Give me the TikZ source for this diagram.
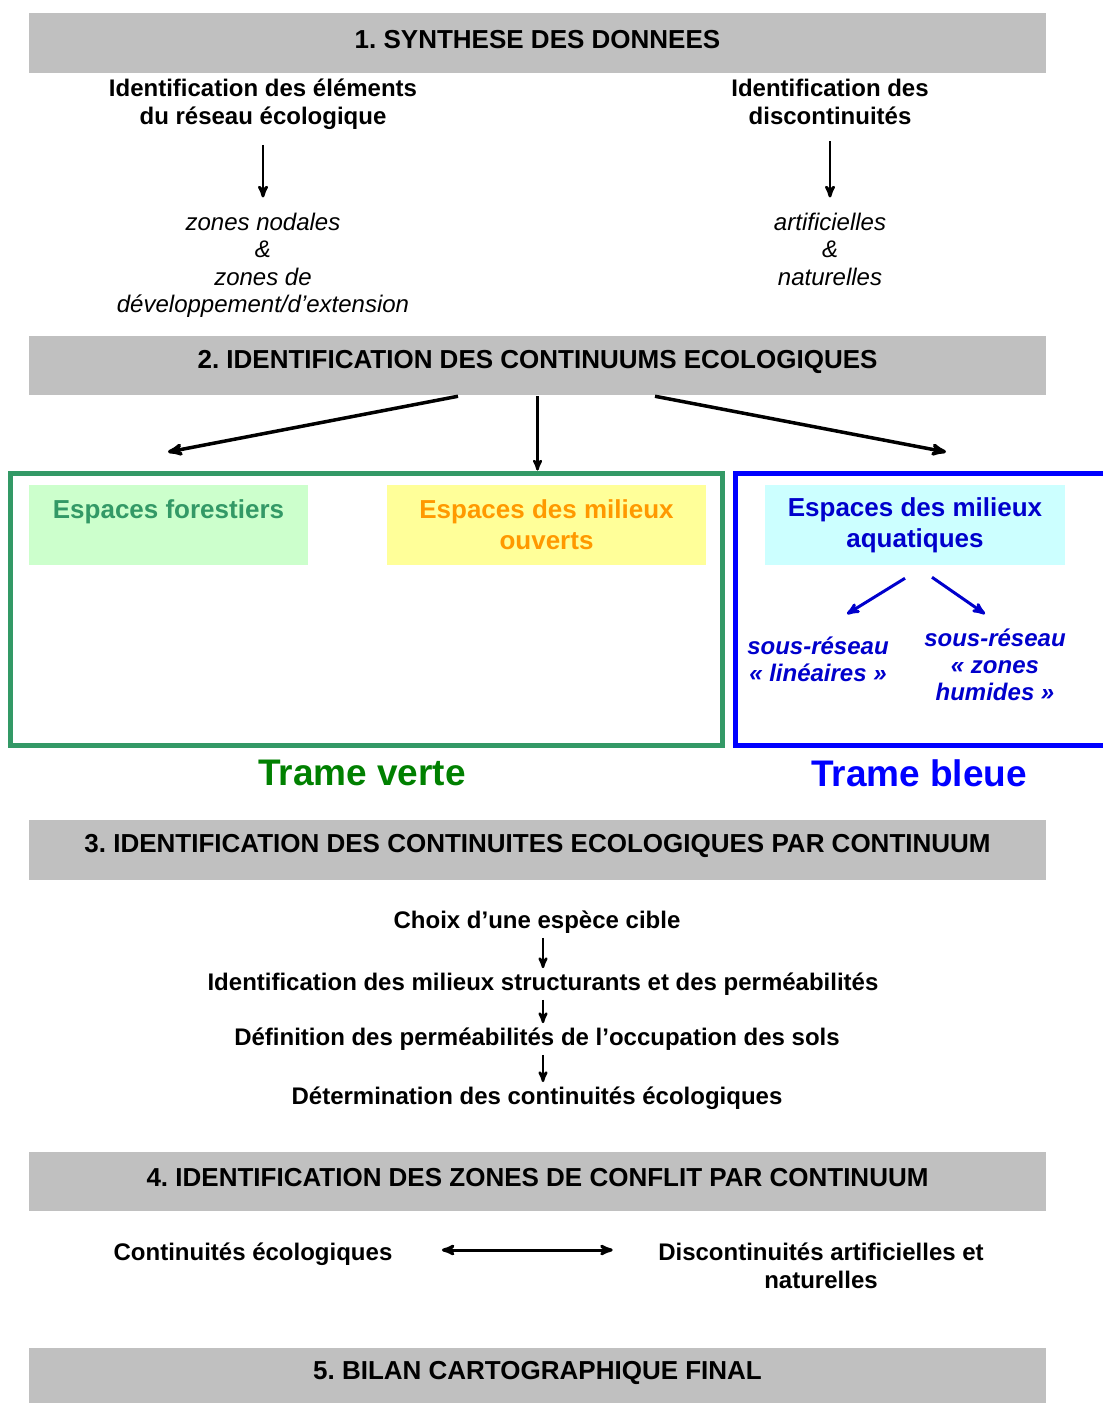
\documentclass[tikz,border=0pt]{standalone}
\usepackage{fontspec}
\setmainfont{Liberation Sans}
\usepackage{tikz}
\usetikzlibrary{arrows}
\definecolor{lgrey}{RGB}{192,192,192}
\definecolor{vgreen}{RGB}{51,153,102}
\definecolor{dgreen}{RGB}{0,128,0}
\definecolor{lgreen}{RGB}{204,255,204}
\definecolor{lyellow}{RGB}{255,255,153}
\definecolor{morange}{RGB}{255,153,0}
\definecolor{lcyan}{RGB}{204,255,255}
\definecolor{dblue}{RGB}{0,0,204}
\definecolor{fblue}{RGB}{0,0,255}
\frenchspacing

\begin{document}
\begin{tikzpicture}[x=1pt,y=-1pt,>=stealth',line width=2.5pt]
      \tikzstyle{band}=[fill=lgrey,minimum width=1017pt,inner sep=0pt]
      \tikzstyle{hdr}=[font=\fontsize{26}{30}\selectfont\bfseries,inner sep=0pt]
      \tikzstyle{txt}=[font=\fontsize{24}{28}\selectfont\bfseries,align=center]
      \tikzstyle{itxt}=[font=\fontsize{24}{27.5}\selectfont\itshape,align=center]
      \tikzstyle{espace}=[font=\fontsize{26}{31}\selectfont\bfseries,align=center,minimum height=80pt,inner sep=0pt]
      \tikzstyle{sous}=[font=\fontsize{24}{27}\selectfont\bfseries\itshape,align=center,text=dblue]
      \tikzstyle{trame}=[font=\fontsize{37}{42}\selectfont\bfseries]

      \useasboundingbox (0,0) rectangle (1103,1403);

      % bandeaux
      \node[band,minimum height=60pt]	(B1) at (537.5,43)     {};
      \node[band,minimum height=59pt]	(B2) at (537.5,365.5)  {};
      \node[band,minimum height=60pt]	(B3) at (537.5,850)    {};
      \node[band,minimum height=59pt]	(B4) at (537.5,1181.5) {};
      \node[band,minimum height=56pt]	(B5) at (537.5,1376)   {};
      \node[hdr]	(H1) at (537.5,39.5)   {1. SYNTHESE DES DONNEES};
      \node[hdr]	(H2) at (537.5,361.5)  {2. IDENTIFICATION DES CONTINUUMS ECOLOGIQUES};
      \node[hdr]	(H3) at (537.5,845.5)  {3. IDENTIFICATION DES CONTINUITES ECOLOGIQUES PAR CONTINUUM};
      \node[hdr]	(H4) at (537.5,1177.5) {4. IDENTIFICATION DES ZONES DE CONFLIT PAR CONTINUUM};
      \node[hdr]	(H5) at (537.5,1372.5) {5. BILAN CARTOGRAPHIQUE FINAL};

      % 1. synthese
      \node[txt]	(E)  at (263,104) {Identification des éléments\\du réseau écologique};
      \node[txt]	(D)  at (830,102) {Identification des\\discontinuités};
      \node[itxt]	(ZN) at (263,265.5) {zones nodales\\\&\\zones de\\développement/d’extension};
      \node[itxt]	(AN) at (830,249) {artificielles\\\&\\naturelles};

      \path[->,line width=2.8pt]
	(E) edge	[shorten <=11pt,shorten >=11pt]	(E |- ZN.north)
	(D) edge	[shorten <=12pt,shorten >=11pt]	(D |- ZN.north);

      % 2. continuums
      \node[draw=vgreen,line width=5pt,minimum width=712pt,minimum height=272pt]	(TV) at (366,609)   {};
      \node[draw=fblue,line width=5pt,minimum width=373pt,minimum height=272pt]	(TB) at (921.5,609) {};
      \node[espace,fill=lgreen,text=vgreen,minimum width=279pt]	(F) at (168.5,525) {Espaces forestiers\\~};
      \node[espace,fill=lyellow,text=morange,minimum width=319pt]	(O) at (546.5,525) {Espaces des milieux\\ouverts};
      \node[espace,fill=lcyan,text=dblue,minimum width=300pt]	(A) at (915,525)   {Espaces des milieux\\aquatiques};
      \node[sous]	(L)  at (818,659) {sous-réseau\\« linéaires »};
      \node[sous]	(ZH) at (995,665) {sous-réseau\\« zones\\humides »};
      \node[trame,text=dgreen]	(V)  at (362,773) {Trame verte};
      \node[trame,text=fblue]	(BL) at (919,773) {Trame bleue};

      \coordinate (p1) at (168,452);
      \coordinate (p3) at (946,452);
      \draw[->,line width=3.5pt] ([xshift=-79.5pt]B2.south) -- (p1);
      \draw[->,line width=2.5pt] (B2.south) -- (B2.south |- TV.north);
      \draw[->,line width=3.5pt] ([xshift=117.5pt]B2.south) -- (p3);

      \coordinate (q1) at (847,614);
      \coordinate (q2) at (985,614);
      \draw[->,dblue,line width=3pt] ([xshift=-10pt,yshift=-12pt]A.south) -- (q1);
      \draw[->,dblue,line width=3pt] ([xshift=17pt,yshift=-11pt]A.south) -- (q2);

      % 3. continuites
      \node[txt]	(C1) at (537,922)  {Choix d’une espèce cible};
      \node[txt]	(C2) at (543,984)  {Identification des milieux structurants et des perméabilités};
      \node[txt]	(C3) at (537,1039) {Définition des perméabilités de l’occupation des sols};
      \node[txt]	(C4) at (537,1098) {Détermination des continuités écologiques};

      \path[->]
	(C1.south -| C2) edge	(C2.north)
	(C2.south)	edge	(C2.south |- C3.north)
	(C3.south -| C2) edge	(C2 |- C4.north);

      % 4. conflits
      \node[txt]	(K1) at (253,1254) {Continuités écologiques};
      \node[txt]	(K2) at (821,1266) {Discontinuités artificielles et\\naturelles};
      \draw[<->,line width=3pt,shorten <=45pt,shorten >=41pt] ([yshift=4pt]K1.east) -- ([yshift=4pt]K1.east -| K2.west);

\end{tikzpicture}
\end{document}
